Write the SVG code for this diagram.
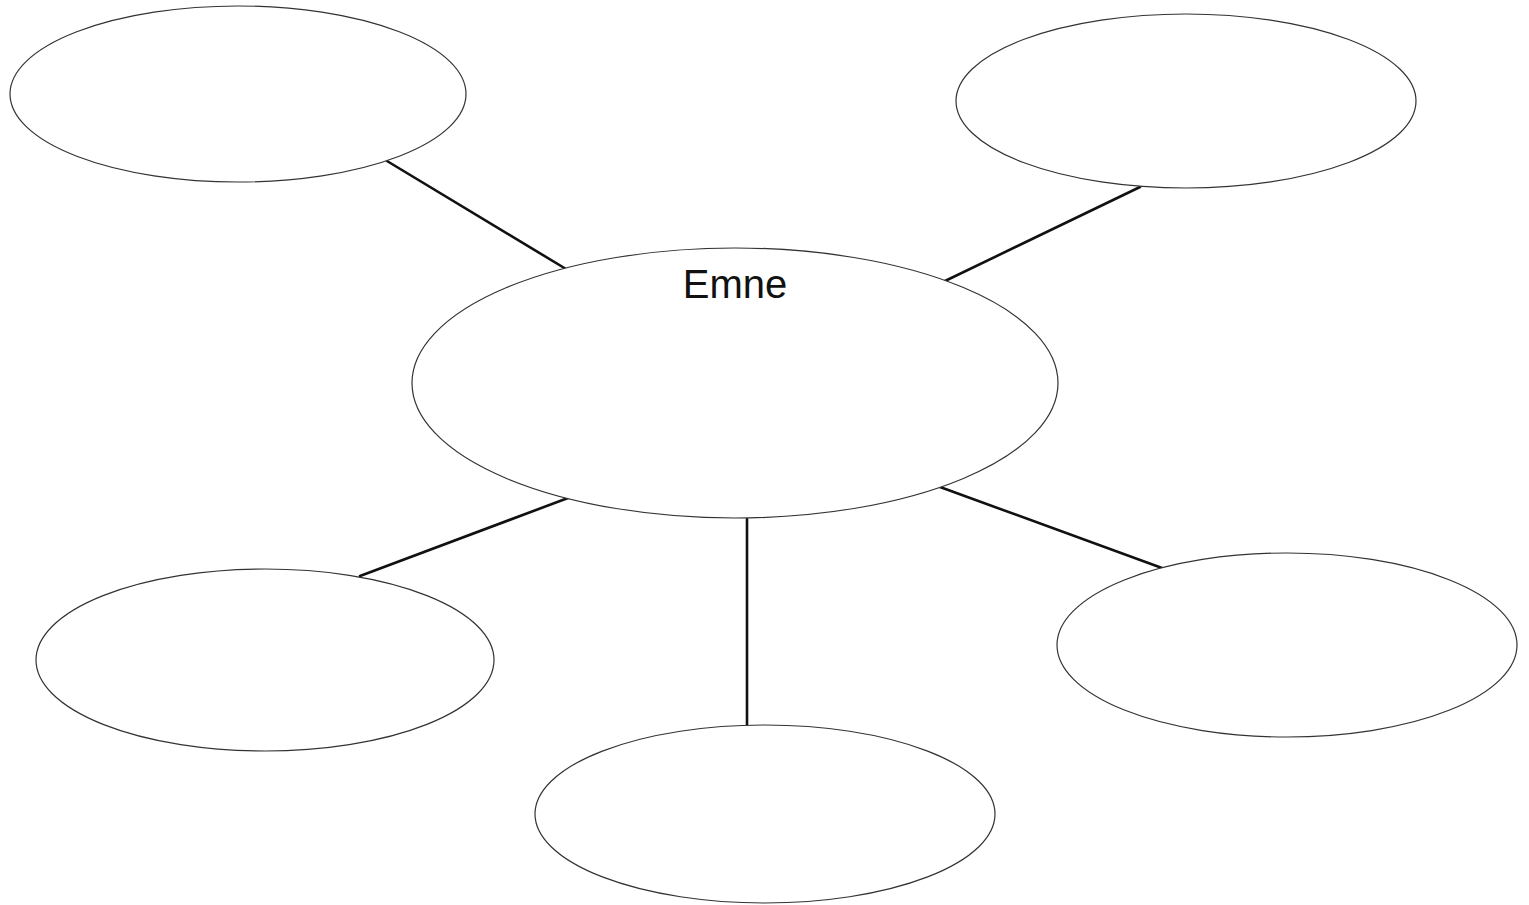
<svg xmlns="http://www.w3.org/2000/svg" width="1529" height="905" viewBox="0 0 1529 905">
<style>
.node{fill:#fff;stroke:#333;stroke-width:1.2}
.conn line{stroke:#111;stroke-width:2.6;stroke-linecap:round}
.label{font-family:"Liberation Sans",Arial,sans-serif;font-size:40px;fill:#111;text-anchor:middle}
</style>
<rect width="1529" height="905" fill="#fff"/>
<g id="connectors" class="conn">
<line x1="387" y1="161" x2="566" y2="269"/>
<line x1="1140" y1="187" x2="945" y2="281"/>
<line x1="568" y1="498" x2="360" y2="576"/>
<line x1="747" y1="519" x2="747" y2="726"/>
<line x1="940" y1="487" x2="1162" y2="568"/>
</g>
<g id="center"><ellipse class="node" cx="735" cy="383" rx="323" ry="135"/><text class="label" x="735" y="298">Emne</text></g>
<g id="top-left"><ellipse class="node" cx="238" cy="94" rx="228" ry="88"/></g>
<g id="top-right"><ellipse class="node" cx="1186" cy="101" rx="230" ry="87"/></g>
<g id="bottom-left"><ellipse class="node" cx="265" cy="660" rx="229" ry="91"/></g>
<g id="bottom-center"><ellipse class="node" cx="765" cy="814" rx="230" ry="89"/></g>
<g id="bottom-right"><ellipse class="node" cx="1287" cy="645" rx="230" ry="92"/></g>
</svg>
